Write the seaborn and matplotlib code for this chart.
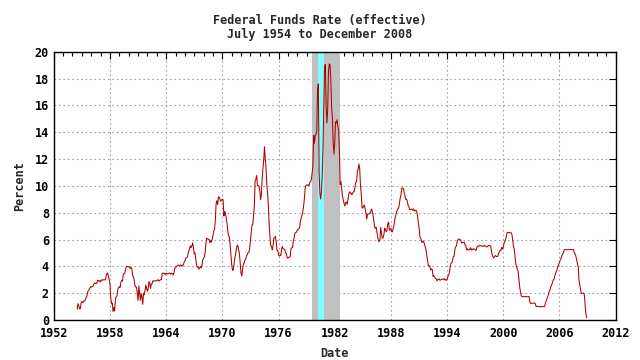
import numpy as np
import pandas as pd
import matplotlib
matplotlib.use("Agg")
import matplotlib.pyplot as plt
import seaborn as sns
from matplotlib.ticker import MultipleLocator

# monthly effective federal funds rate
start_year = 1954
start_month = 7
rates = [
    0.80, 1.22, 1.07, 0.85, 0.83, 1.28,
    1.39, 1.29, 1.35, 1.43, 1.43, 1.64, 1.68, 1.96, 2.18, 2.24, 2.35, 2.48,
    2.45, 2.50, 2.50, 2.62, 2.75, 2.71, 2.75, 2.73, 2.95, 2.96, 2.88, 2.94,
    2.84, 3.00, 2.96, 3.00, 3.00, 3.00, 2.99, 3.24, 3.47, 3.50, 3.28, 2.98,
    2.72, 1.67, 1.20, 1.26, 0.63, 0.93, 0.68, 1.53, 1.76, 1.80, 2.27, 2.42,
    2.48, 2.43, 2.80, 2.96, 2.90, 3.39, 3.47, 3.50, 3.76, 3.98, 4.00, 3.99,
    3.99, 3.97, 3.84, 3.92, 3.85, 3.32, 3.23, 2.98, 2.60, 2.47, 2.44, 1.98,
    1.45, 2.54, 2.02, 1.49, 1.98, 1.73, 1.17, 2.00, 1.88, 2.26, 2.61, 2.33,
    2.15, 2.37, 2.85, 2.78, 2.36, 2.68, 2.71, 2.93, 2.90, 2.90, 2.94, 2.93,
    2.92, 3.00, 2.98, 2.90, 3.00, 2.99, 3.02, 3.49, 3.48, 3.50, 3.48, 3.38,
    3.48, 3.48, 3.43, 3.47, 3.50, 3.50, 3.42, 3.50, 3.45, 3.36, 3.52, 3.85,
    3.90, 3.98, 4.04, 4.09, 4.10, 4.04, 4.09, 4.12, 4.01, 4.08, 4.10, 4.32,
    4.42, 4.60, 4.65, 4.67, 4.90, 5.17, 5.30, 5.53, 5.40, 5.53, 5.76, 5.40,
    4.94, 5.00, 4.53, 4.05, 3.94, 3.98, 3.79, 3.90, 3.99, 3.88, 4.13, 4.51,
    4.60, 4.71, 5.05, 5.76, 6.11, 6.07, 6.02, 6.03, 5.78, 5.92, 5.81, 6.02,
    6.30, 6.64, 6.79, 7.41, 8.67, 8.90, 8.61, 9.19, 9.15, 9.00, 8.85, 8.97,
    8.98, 8.98, 7.76, 8.10, 7.95, 7.61, 7.21, 6.61, 6.29, 6.20, 5.60, 4.90,
    4.14, 3.72, 3.71, 4.16, 4.63, 4.91, 5.31, 5.57, 5.55, 5.20, 4.91, 4.14,
    3.50, 3.29, 3.83, 4.17, 4.27, 4.46, 4.55, 4.80, 4.87, 5.04, 5.06, 5.33,
    5.94, 6.58, 7.09, 7.12, 7.84, 8.49, 10.40, 10.50, 10.78, 10.01, 10.03, 9.95,
    9.65, 8.97, 9.35, 10.51, 11.31, 11.93, 12.92, 12.01, 11.34, 10.06, 9.45, 8.53,
    7.13, 6.24, 5.54, 5.49, 5.22, 5.55, 6.10, 6.14, 6.24, 5.82, 5.22, 5.20,
    4.87, 4.77, 4.84, 4.82, 5.29, 5.48, 5.31, 5.29, 5.25, 5.02, 4.95, 4.65,
    4.61, 4.68, 4.69, 4.73, 5.35, 5.39, 5.42, 5.90, 6.14, 6.47, 6.51, 6.56,
    6.70, 6.78, 6.79, 6.89, 7.36, 7.60, 7.81, 8.04, 8.45, 8.96, 9.76, 10.03,
    10.07, 10.06, 10.09, 10.01, 10.24, 10.29, 10.47, 10.94, 11.43, 13.77, 13.18, 13.78,
    13.82, 14.13, 17.19, 17.61, 10.98, 9.47, 9.03, 9.61, 10.87, 12.81, 15.85, 18.90,
    19.08, 15.93, 14.70, 15.72, 18.52, 19.10, 19.04, 17.82, 15.87, 15.08, 13.31, 12.37,
    13.22, 14.78, 14.68, 14.94, 14.45, 14.15, 12.59, 10.12, 10.31, 9.71, 9.20, 8.95,
    8.68, 8.51, 8.77, 8.80, 8.63, 8.98, 9.37, 9.56, 9.45, 9.48, 9.34, 9.47,
    9.56, 9.59, 9.91, 10.29, 10.32, 11.06, 11.23, 11.64, 11.30, 9.99, 9.43, 8.38,
    8.35, 8.50, 8.58, 8.27, 7.97, 7.53, 7.88, 7.90, 7.92, 7.99, 8.05, 8.27,
    8.14, 7.86, 7.48, 6.99, 6.85, 6.92, 6.56, 6.17, 5.89, 5.85, 6.04, 6.91,
    6.43, 6.10, 6.13, 6.37, 6.85, 6.73, 6.58, 6.73, 7.22, 7.29, 6.69, 6.77,
    6.83, 6.58, 6.58, 6.87, 7.09, 7.51, 7.75, 8.01, 8.19, 8.30, 8.35, 8.76,
    9.12, 9.36, 9.85, 9.84, 9.81, 9.53, 9.24, 8.99, 9.02, 8.84, 8.55, 8.45,
    8.23, 8.24, 8.28, 8.26, 8.18, 8.29, 8.15, 8.13, 8.20, 8.11, 7.81, 7.31,
    6.91, 6.25, 6.12, 5.91, 5.78, 5.90, 5.82, 5.66, 5.45, 5.21, 4.81, 4.43,
    4.03, 4.06, 3.98, 3.73, 3.82, 3.76, 3.25, 3.30, 3.22, 3.10, 3.09, 2.92,
    3.02, 3.03, 3.07, 2.96, 3.00, 3.04, 3.06, 3.03, 3.09, 2.99, 3.02, 2.96,
    3.05, 3.25, 3.34, 3.56, 4.01, 4.25, 4.26, 4.47, 4.73, 4.76, 5.29, 5.45,
    5.53, 5.92, 5.98, 6.05, 6.01, 6.00, 5.85, 5.74, 5.80, 5.76, 5.80, 5.60,
    5.56, 5.22, 5.31, 5.22, 5.24, 5.27, 5.40, 5.22, 5.30, 5.24, 5.31, 5.29,
    5.25, 5.19, 5.39, 5.51, 5.50, 5.56, 5.52, 5.54, 5.54, 5.50, 5.52, 5.50,
    5.56, 5.51, 5.49, 5.45, 5.49, 5.56, 5.54, 5.55, 5.51, 5.07, 4.83, 4.68,
    4.63, 4.76, 4.81, 4.74, 4.74, 4.76, 4.99, 5.07, 5.22, 5.20, 5.42, 5.30,
    5.45, 5.73, 5.85, 6.02, 6.27, 6.53, 6.54, 6.50, 6.52, 6.51, 6.51, 6.40,
    5.98, 5.49, 5.31, 4.80, 4.21, 3.97, 3.77, 3.65, 3.07, 2.49, 2.09, 1.82,
    1.73, 1.74, 1.73, 1.75, 1.75, 1.75, 1.73, 1.74, 1.75, 1.75, 1.34, 1.24,
    1.24, 1.26, 1.25, 1.26, 1.26, 1.22, 1.01, 1.03, 1.01, 1.01, 1.00, 0.98,
    1.00, 1.01, 1.00, 1.00, 1.00, 1.03, 1.26, 1.43, 1.61, 1.76, 1.93, 2.16,
    2.28, 2.50, 2.63, 2.79, 3.00, 3.04, 3.26, 3.50, 3.62, 3.78, 4.00, 4.16,
    4.29, 4.49, 4.59, 4.79, 4.94, 4.99, 5.24, 5.25, 5.25, 5.25, 5.25, 5.24,
    5.25, 5.26, 5.26, 5.25, 5.25, 5.25, 5.26, 5.02, 4.94, 4.76, 4.49, 4.24,
    3.94, 2.98, 2.61, 2.28, 1.98, 2.00, 2.01, 2.00, 1.81, 0.97, 0.39, 0.16,
]

# shaded periods (decimal years)
gray_span = (1979.55, 1982.6)
cyan_span = (1980.2, 1980.9)

x_ticks = list(range(1952, 2013, 6))
y_ticks = list(range(0, 21, 2))

dates = start_year + (start_month - 1) / 12 + np.arange(len(rates)) / 12
df = pd.DataFrame({"Date": dates, "Percent": rates})

sns.set_style("white")
font = "DejaVu Sans Mono"
plt.rcParams["font.family"] = [font, "DejaVu Sans"]
plt.rcParams["font.weight"] = "bold"

fig = plt.figure(figsize=(6.4, 3.6), dpi=100)
ax = fig.add_axes([0.084, 0.111, 0.878, 0.745])

ax.axvspan(*gray_span, color="#c0c0c0", lw=0, zorder=1)
ax.axvspan(*cyan_span, color="#80ffff", lw=0, zorder=1)

sns.lineplot(data=df, x="Date", y="Percent", ax=ax, color="#b00000",
             lw=0.75, zorder=3)

ax.set_xlim(1952, 2012)
ax.set_ylim(0, 20)
ax.set_xticks(x_ticks)
ax.set_yticks(y_ticks)
ax.xaxis.set_minor_locator(MultipleLocator(1))
ax.grid(True, which="major", color="#a0a0a0", ls=(0, (1.5, 2.5)), lw=0.8, zorder=0)
ax.set_axisbelow(True)

ax.tick_params(which="both", direction="in", top=True, right=True,
               labelsize=8.5, colors="black", width=0.8)
ax.tick_params(which="major", length=5)
ax.tick_params(which="minor", length=3)
ax.tick_params(axis="x", which="major", pad=5)
for s in ax.spines.values():
    s.set_color("black")
    s.set_linewidth(1.0)

ax.set_xlabel("Date", fontsize=8.5, fontweight="bold", labelpad=5)
ax.set_ylabel("Percent", fontsize=8.5, fontweight="bold", labelpad=6)
fig.suptitle("Federal Funds Rate (effective)\nJuly 1954 to December 2008",
             fontsize=8.5, fontweight="bold", y=0.962, linespacing=1.1)

fig.savefig("out.png", dpi=100)
